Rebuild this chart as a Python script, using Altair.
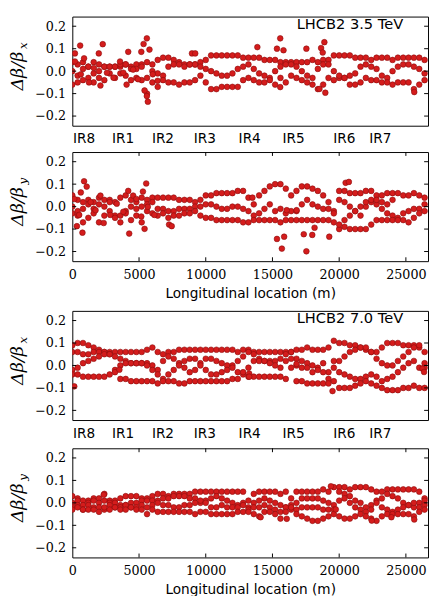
import altair as alt
import pandas as pd

# BPM-like sampling positions along the ring (m)
X_POS = [0, 400, 800, 1200, 1600, 2000, 2400, 2800, 3200, 3600,
         4000, 4400, 4800, 5200, 5600, 6000, 6400, 6800, 7200, 7600,
         8000, 8400, 8800, 9200, 9600, 10000, 10400, 10800, 11200, 11600,
         12000, 12400, 12800, 13200, 13600, 14000, 14400, 14800, 15200, 15600,
         16000, 16400, 16800, 17200, 17600, 18000, 18400, 18800, 19200, 19600,
         20000, 20400, 20800, 21200, 21600, 22000, 22400, 22800, 23200, 23600,
         24000, 24400, 24800, 25200, 25600, 26000, 26400]

# ---- Panel 1: LHCB2 3.5 TeV, horizontal (values in %) ----
P1_A = [4, 3, 4, 2, 4, 3, 2, 2, 2, 2,
        3, 2, 3, 3, 4, 3, 5, 6, 6, 5,
        4, 3, 3, 3, 4, 5, 7, 7, 7, 7,
        7, 7, 6, 6, 6, 6, 5, 5, 5, 4,
        4, 4, 4, 4, 4, 5, 4, 5, 5, 7,
        7, 7, 7, 6, 6, 6, 5, 6, 6, 6,
        5, 6, 6, 6, 6, 6, 5]
P1_B = [0, -2, 1, 2, -1, 0, 2, 2, 2, 3,
        3, 1, 1, 2, -3, 0, -1, -2, 2, 3,
        3, 2, 3, 3, 2, 1, 0, -1, -2, -2,
        -1, 1, 2, 3, 1, -1, -2, -3, 0, 2,
        3, 3, 2, 0, -2, -3, 1, 3, 3, 0,
        -3, -3, -2, -1, 2, 3, 2, 1, -2, -3,
        0, 2, 3, 3, 2, 1, -1]
P1_C = [-6, -5, -4, -3, -5, -3, -4, -1, -3, -1,
        -2, -4, -3, -4, -10, -5, -7, -4, -5, -5,
        -6, -5, -5, -4, -2, -5, -8, -8, -7, -7,
        -7, -7, -4, -3, -4, -5, -5, -4, -6, -3,
        -5, -2, -3, -4, -5, -6, -8, -6, -3, -4,
        -2, -3, -6, -6, -5, -3, -4, -4, -5, -5,
        -6, -5, -5, -5, -8, -6, -4]
P1_EX_X = [196, 588, 882, 1985, 2107, 2279, 4067, 4190, 5170, 5341, 5415, 5586,
           5586, 5660, 5782, 8967, 9212, 13867, 15337, 15582, 15582, 15827,
           17542, 18522, 18645, 18767, 18890, 18963, 25627,
           196, 637, 1250, 1617, 2597, 3087, 3577, 3822, 4557, 4925, 6027, 6395]
P1_EX_Y = [7.9, 11.4, 5.7, 7.9, -6.4, 12, -6, 8.6, 8.6, 12.1, -8.6, 14.6,
           -11.1, -13.6, 9.6, 7.9, 7.9, 10.7, 10, 14.6, -7.1, 9.3,
           10, -7.9, 10.3, 8.3, 12.9, -9.6, -9.3,
           4.3, -1.4, -5, 1.4, -0.7, -2.9, 4.3, -0.7, 0.7, -3.6, -1.4, -4.3]

# ---- Panel 2: LHCB2 3.5 TeV, vertical ----
P2_A = [5, 3, 2, 3, 2, 4, 3, 3, 2, 4,
        5, 3, 2, 4, 3, 4, 4, 4, 4, 4,
        3, 3, 3, 2, 3, 5, 5, 6, 6, 6,
        6, 7, 7, 4, 1, 5, 7, 9, 10, 10,
        8, 5, 7, 9, 9, 8, 7, 5, 2, -2,
        7, 7, 6, 6, 6, 7, 7, 5, 5, 6,
        6, 6, 5, 5, 6, 5, 4]
P2_B = [0, -2, -1, 1, -1, 1, 0, 2, -4, -4,
        -2, 0, -1, 0, 1, 2, -1, -1, -2, -2,
        -1, -1, -1, 0, 0, 1, 1, 0, -1, -1,
        0, 0, -1, -2, -4, -3, -1, 1, -2, -1,
        -3, -2, -2, 1, 3, 1, 0, -1, -1, -3,
        3, 2, 0, -2, -4, 0, 2, 1, -1, -3,
        -4, -5, -3, -2, -1, -1, 1]
P2_C = [-3, -4, -7, -5, -3, -7, -4, -2, -5, -7,
        -3, -6, -4, -7, -2, -3, -4, -3, -5, -4,
        -4, -3, -3, -2, -4, -5, -5, -6, -6, -6,
        -6, -6, -7, -7, -6, -6, -6, -6, -6, -7,
        -6, -6, -6, -6, -6, -6, -6, -6, -6, -7,
        -10, -9, -10, -10, -10, -10, -8, -6, -6, -6,
        -6, -6, -6, -7, -5, -3, -2]
P2_EX_X = [20000, 20400, 20800, 21200, 21600, 22000, 22400, 22800, 23200, 23600, 24000,
           343, 637, 760, 882, 1078, 2352, 4190, 4263, 4557, 5292, 5415, 5537,
           7252, 7448, 13500, 15337, 15705, 15876, 16072, 16807, 17346, 17542,
           17983, 18155, 19257, 20482, 20727,
           147, 515, 1372, 1740, 2107, 2842, 3332, 3822, 4802, 5170, 5660, 6150]
P2_EX_Y = [-8, -6, -4, -2, 0, 2, 3, 3, 2, 1, 3,
           -8.7, 6.3, -11.6, 11.3, 8.9, -7.3, 7, -12, 4.9, 6.7, -9.9, 10.3,
           -8, -8.7, 4, -14.4, -18.7, -13.4, -1.6, -1.6, -12.3, -19.9,
           -12.6, -9.4, -13.4, 10.6, 11,
           3.4, -3.7, 2, -1.6, 4.9, -3.7, 1.3, -2.3, 3.4, -4.4, -0.1, -3.7]

# ---- Panel 3: LHCB2 7.0 TeV, horizontal ----
P3_A = [9, 10, 10, 9, 8, 7, 6, 6, 6, 6,
        6, 6, 6, 6, 7, 8, 6, 5, 6, 6,
        7, 7, 7, 7, 7, 7, 7, 7, 7, 7,
        7, 6, 7, 7, 6, 6, 6, 6, 6, 6,
        6, 6, 7, 7, 8, 7, 7, 7, 8, 11,
        10, 10, 9, 9, 8, 7, 6, 6, 8, 10,
        10, 10, 9, 9, 9, 8, 6]
P3_B = [6, 6, 5, 5, 6, 6, 6, 5, 4, 3,
        2, 1, 1, 1, 1, 0, -2, 2, 4, 3,
        1, -1, -3, -2, 1, 3, 3, 2, 1, 0,
        0, 2, 4, 6, 5, 3, 2, 2, 2, 3,
        5, 6, 3, 2, 1, 0, -1, 1, -3, 2,
        2, 4, 6, 7, 8, 8, 6, 3, 1, 0,
        0, 2, 4, 6, 8, 9, 1]
P3_C = [-2, -1, 1, 2, 3, 4, 5, 5, -2, 0,
        1, 1, 1, 1, 0, -2, -4, -6, -4, -2,
        0, 2, 3, 3, 0, -2, -4, -4, -3, -2,
        -1, -3, -4, -1, 2, 2, 2, 1, 0, -1,
        2, 3, 0, -1, -1, -3, -2, -3, -6, -1,
        -3, -4, -5, -6, -6, -5, -4, -5, -7, -6,
        -5, -3, -1, 1, 2, -1, -1]
P3_D = [-4, -4, -5, -5, -5, -5, -5, -4, -3, -6,
        -6, -7, -7, -7, -7, -7, -8, -7, -7, -7,
        -8, -8, -7, -7, -7, -7, -7, -7, -7, -7,
        -6, -6, -3, -5, -5, -5, -5, -5, -5, -5,
        -6, -1, -7, -7, -8, -8, -8, -8, -8, -7,
        -10, -10, -10, -9, -8, -7, -8, -9, -10, -11,
        -11, -11, -10, -10, -9, -10, -10]
P3_EX_X = [147, 3528, 13255, 13255, 16807, 19502, 26240, 26362]
P3_EX_Y = [-9.3, -1.9, -3.6, -5, 0.7, -11.4, -1.4, -2.9]

# ---- Panel 4: LHCB2 7.0 TeV, vertical ----
P4_A = [3, 2, 1, 1, 2, 2, 4, 1, 1, 2,
        3, 3, 3, 2, 2, 3, 4, 4, 3, 4,
        4, 4, 4, 5, 5, 5, 5, 5, 5, 5,
        5, 5, 5, 1, 4, 5, 5, 5, 5, 4,
        5, 2, 5, 5, 5, 5, 5, 6, 5, 7,
        7, 7, 6, 7, 7, 7, 6, 5, 5, 6,
        6, 6, 6, 6, 6, 5, 2]
P4_B = [0, 1, -1, 0, 1, 0, 1, 0, 0, -1,
        -1, 0, 0, 1, 1, 1, 1, 2, 2, 3,
        3, 3, 2, 2, 0, 1, 2, 3, 2, 1,
        0, -1, 0, -2, 0, 1, 2, 1, 0, -1,
        -2, -1, 0, 2, 2, 2, 2, 1, 0, -1,
        5, 4, 3, 1, 0, -2, -1, 1, 2, 4,
        3, 2, 0, -1, -2, 0, 1]
P4_C = [-2, -1, -3, -1, -2, -2, -3, -1, -2, -2,
        -1, -2, -2, -1, -2, -1, 0, -1, -1, -2,
        -2, -1, -1, 0, 1, 0, -2, -2, -1, -2,
        -2, -2, -1, -3, -2, -2, -1, -2, -3, -4,
        -2, -3, -3, -2, -2, -2, -2, -3, -3, -3,
        1, 2, 0, -2, -3, -4, -3, 0, -2, -3,
        -4, -3, -2, -1, 0, -2, -1]
P4_D = [-3, -2, -3, -3, -3, -4, -2, -3, -2, -3,
        -3, -2, -3, -3, -5, -3, -4, -4, -4, -4,
        -4, -4, -4, -5, -4, -4, -5, -5, -5, -5,
        -5, -4, -4, -4, -5, -6, -4, -4, -5, -7,
        -4, -2, -5, -6, -7, -8, -8, -7, -6, -5,
        -6, -7, -7, -6, -5, -6, -7, -8, -6, -5,
        -5, -5, -5, -5, -6, -4, -3]
P4_EX_X = [2352, 14112, 16072, 19380, 19747, 22440, 23912, 25627]
P4_EX_Y = [3.6, -6.4, -7.1, 7.4, -2.9, -7.9, -6.4, -7.4]

# ---- labels ----
IR_NAMES = ["IR8", "IR1", "IR2", "IR3", "IR4", "IR5", "IR6", "IR7"]
IR_POS = [876, 3798, 6793, 9933, 13293, 16580, 20378, 23080]
Y_TICKS = [-0.2, -0.1, 0.0, 0.1, 0.2]
X_TICKS = [0, 5000, 10000, 15000, 20000, 25000]
X_TITLE = "Longitudinal location (m)"

RING = 26659
W, H = 365, 112
RED = "#d41c1c"
EDGE = "#8a0c0c"

xs = alt.Scale(domain=[0, RING], nice=False, zero=False)
ys = alt.Scale(domain=[-0.243, 0.243], nice=False, zero=False)


def panel_df(tracks, ex_x, ex_y):
    rows = []
    for tr in tracks:
        for s, v in zip(X_POS, tr):
            rows.append((s, v / 100.0))
    for s, v in zip(ex_x, ex_y):
        rows.append((s, v / 100.0))
    return pd.DataFrame(rows, columns=["s", "dbb"])


YAXIS = alt.Axis(values=Y_TICKS, format=".1f", ticks=False, domain=False, grid=False,
                 labelFont="DejaVu Serif", labelFontSize=13, labelPadding=7,
                 labelColor="black", title=None)
XAXIS = alt.Axis(values=X_TICKS, format="d", ticks=False, domain=False, grid=False,
                 labelFont="DejaVu Serif", labelFontSize=13, labelPadding=8,
                 labelColor="black", labelFlush=False, labelOverlap=False,
                 title=X_TITLE, titleFont="DejaVu Sans", titleFontSize=14,
                 titleFontWeight="normal", titleColor="black", titlePadding=5)


def make_panel(df, plane, energy, bottom_axis):
    xaxis = XAXIS if bottom_axis else None

    def X(field):
        return alt.X(field, scale=xs, axis=xaxis)

    def Y(field):
        return alt.Y(field, scale=ys, axis=YAXIS)

    pts = alt.Chart(df).mark_circle(size=34, color=RED, stroke=EDGE, strokeWidth=0.6,
                                    opacity=1, clip=True).encode(
        x=X("s:Q"), y=Y("dbb:Q"))
    layers = [pts]

    ytdf = pd.DataFrame({"dbb": Y_TICKS})
    layers.append(alt.Chart(ytdf).mark_rule(color="black", strokeWidth=1).encode(
        y=Y("dbb:Q"), x=alt.value(0), x2=alt.value(4)))
    layers.append(alt.Chart(ytdf).mark_rule(color="black", strokeWidth=1).encode(
        y=Y("dbb:Q"), x=alt.value(W - 4), x2=alt.value(W)))

    if bottom_axis:
        xtdf = pd.DataFrame({"s": X_TICKS[1:]})
        layers.append(alt.Chart(xtdf).mark_rule(color="black", strokeWidth=1).encode(
            x=X("s:Q"), y=alt.value(0), y2=alt.value(4)))
        layers.append(alt.Chart(xtdf).mark_rule(color="black", strokeWidth=1).encode(
            x=X("s:Q"), y=alt.value(H - 4), y2=alt.value(H)))
    else:
        irdf = pd.DataFrame({"s": IR_POS, "t": IR_NAMES})
        layers.append(alt.Chart(irdf).mark_text(font="DejaVu Sans", fontSize=14,
                                                baseline="middle", align="center",
                                                color="black").encode(
            x=X("s:Q"), y=alt.value(H + 14), text="t:N"))

    if energy:
        edf = pd.DataFrame({"s": [24800], "dbb": [0.209], "t": [energy]})
        layers.append(alt.Chart(edf).mark_text(font="DejaVu Sans", fontSize=15, align="right",
                                               baseline="middle", color="black").encode(
            x=X("s:Q"), y=Y("dbb:Q"), text="t:N"))

    tdf = pd.DataFrame({"t": ["Δβ/β"]})
    layers.append(alt.Chart(tdf).mark_text(font="DejaVu Serif", fontStyle="italic", fontSize=18,
                                           angle=270, align="center", baseline="middle",
                                           color="black").encode(
        x=alt.value(-56), y=alt.value(56), text="t:N"))
    sdf = pd.DataFrame({"t": [plane]})
    layers.append(alt.Chart(sdf).mark_text(font="DejaVu Serif", fontStyle="italic", fontSize=12,
                                           angle=270, align="center", baseline="middle",
                                           color="black").encode(
        x=alt.value(-51), y=alt.value(30), text="t:N"))

    return alt.layer(*layers).properties(width=W, height=H)


p1 = make_panel(panel_df([P1_A, P1_B, P1_C], P1_EX_X, P1_EX_Y), "x", "LHCB2 3.5 TeV", False)
p2 = make_panel(panel_df([P2_A, P2_B, P2_C], P2_EX_X, P2_EX_Y), "y", None, True)
p3 = make_panel(panel_df([P3_A, P3_B, P3_C, P3_D], P3_EX_X, P3_EX_Y), "x", "LHCB2 7.0 TeV", False)
p4 = make_panel(panel_df([P4_A, P4_B, P4_C, P4_D], P4_EX_X, P4_EX_Y), "y", None, True)

chart = alt.vconcat(
    alt.vconcat(p1, p2, spacing=4),
    alt.vconcat(p3, p4, spacing=6),
    spacing=9,
).properties(
    padding={"left": 0, "top": 0, "right": 0, "bottom": 0},
    background="white",
).configure_view(stroke="black", strokeWidth=1)

chart.save("out.html", embed_options={"renderer": "svg", "actions": False})
